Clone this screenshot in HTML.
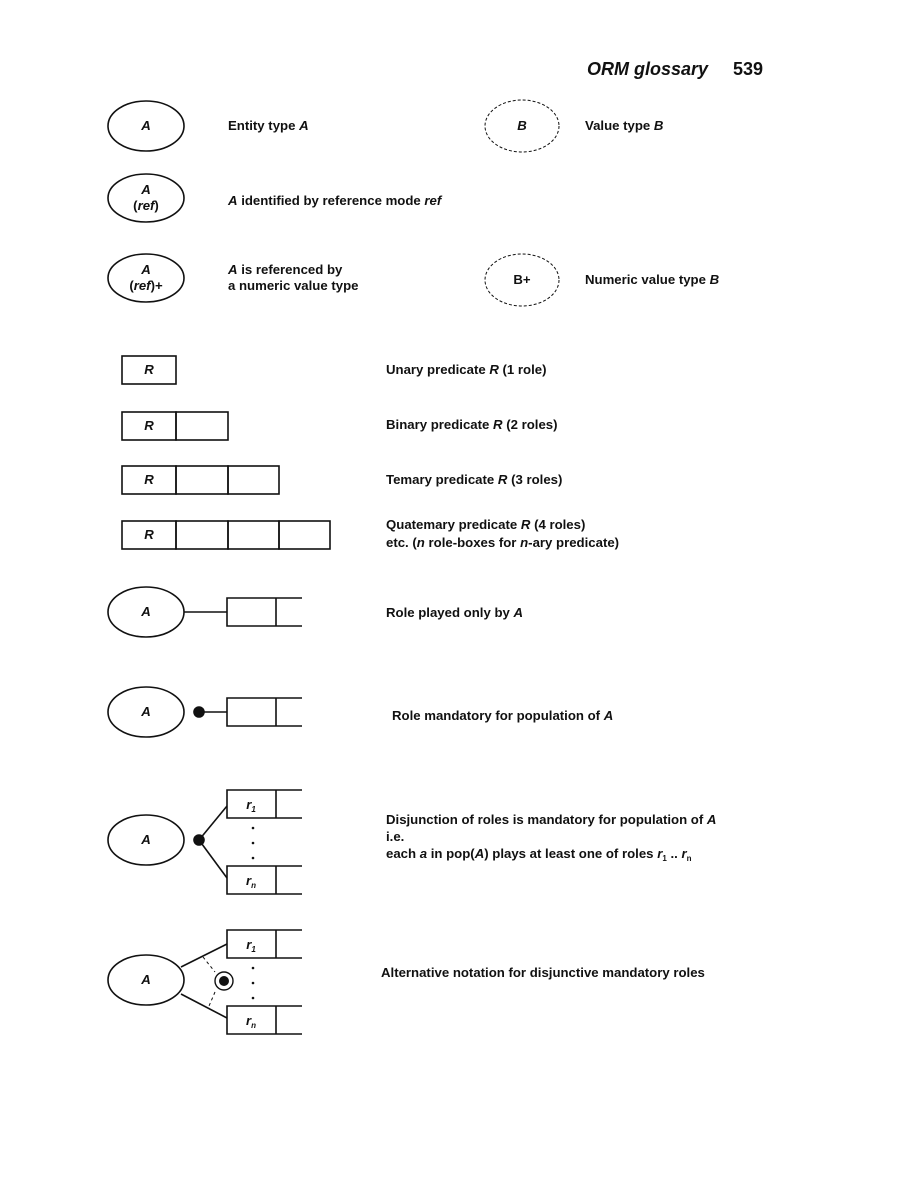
<!DOCTYPE html>
<html><head><meta charset="utf-8"><style>
html,body{margin:0;padding:0;background:#fff;}
svg{display:block;font-family:"Liberation Sans",Arial,sans-serif;}
text{fill:#111;font-size:13.2px;}
.b{font-weight:bold}
.i{font-style:italic}
</style></head><body>
<svg width="918" height="1188" viewBox="0 0 918 1188" stroke="#111" fill="none" stroke-width="1.6">
<g stroke="none">
<text x="587" y="75" style="font-size:18px" class="b i">ORM glossary</text>
<text x="733" y="75" style="font-size:18px" class="b">539</text>
</g>
<g>
<ellipse cx="146" cy="126" rx="38" ry="25"/>
<text x="146" y="130" text-anchor="middle" class="b i" stroke="none">A</text>
<text x="228" y="130" class="b" stroke="none">Entity type <tspan class="i">A</tspan></text>
</g>
<g>
<ellipse cx="522" cy="126" rx="37" ry="26" stroke-dasharray="3,2" stroke-width="1"/>
<text x="522" y="130" text-anchor="middle" class="b i" stroke="none">B</text>
<text x="585" y="130" class="b" stroke="none">Value type <tspan class="i">B</tspan></text>
</g>
<g>
<ellipse cx="146" cy="198" rx="38" ry="24"/>
<text x="146" y="194" text-anchor="middle" class="b i" stroke="none">A</text>
<text x="146" y="210" text-anchor="middle" class="b" stroke="none">(<tspan class="i">ref</tspan>)</text>
<text x="228" y="205" class="b" stroke="none"><tspan class="i">A</tspan> identified by reference mode <tspan class="i">ref</tspan></text>
</g>
<g>
<ellipse cx="146" cy="278" rx="38" ry="24"/>
<text x="146" y="274" text-anchor="middle" class="b i" stroke="none">A</text>
<text x="146" y="290" text-anchor="middle" class="b" stroke="none">(<tspan class="i">ref</tspan>)+</text>
<text x="228" y="274" class="b" stroke="none"><tspan class="i">A</tspan> is referenced by</text>
<text x="228" y="290" class="b" stroke="none">a numeric value type</text>
</g>
<g>
<ellipse cx="522" cy="280" rx="37" ry="26" stroke-dasharray="3,2" stroke-width="1"/>
<text x="522" y="284" text-anchor="middle" class="b" stroke="none">B+</text>
<text x="585" y="284" class="b" stroke="none">Numeric value type <tspan class="i">B</tspan></text>
</g>
<g>
<rect x="122" y="356" width="54" height="28"/>
<text x="149" y="374" text-anchor="middle" class="b i" stroke="none">R</text>
<text x="386" y="374" class="b" stroke="none">Unary predicate <tspan class="i">R</tspan>  (1 role)</text>
</g>
<g>
<rect x="122" y="412" width="54" height="28"/><rect x="176" y="412" width="52" height="28"/>
<text x="149" y="430" text-anchor="middle" class="b i" stroke="none">R</text>
<text x="386" y="429" class="b" stroke="none">Binary predicate <tspan class="i">R</tspan>  (2 roles)</text>
</g>
<g>
<rect x="122" y="466" width="54" height="28"/><rect x="176" y="466" width="52" height="28"/><rect x="228" y="466" width="51" height="28"/>
<text x="149" y="484" text-anchor="middle" class="b i" stroke="none">R</text>
<text x="386" y="484" class="b" stroke="none">Temary predicate <tspan class="i">R</tspan>  (3 roles)</text>
</g>
<g>
<rect x="122" y="521" width="54" height="28"/><rect x="176" y="521" width="52" height="28"/><rect x="228" y="521" width="51" height="28"/><rect x="279" y="521" width="51" height="28"/>
<text x="149" y="539" text-anchor="middle" class="b i" stroke="none">R</text>
<text x="386" y="529" class="b" stroke="none">Quatemary predicate <tspan class="i">R</tspan>  (4 roles)</text>
<text x="386" y="547" class="b" stroke="none">etc. (<tspan class="i">n</tspan> role-boxes for <tspan class="i">n</tspan>-ary predicate)</text>
</g>
<g>
<ellipse cx="146" cy="612" rx="38" ry="25"/>
<text x="146" y="616" text-anchor="middle" class="b i" stroke="none">A</text>
<line x1="184" y1="612" x2="227" y2="612"/>
<path d="M302 598 H227 V626 H302 M276 598 V626"/>
<text x="386" y="617" class="b" stroke="none">Role played only by <tspan class="i">A</tspan></text>
</g>
<g>
<ellipse cx="146" cy="712" rx="38" ry="25"/>
<text x="146" y="716" text-anchor="middle" class="b i" stroke="none">A</text>
<circle cx="199" cy="712" r="5" fill="#111"/>
<line x1="199" y1="712" x2="227" y2="712"/>
<path d="M302 698 H227 V726 H302 M276 698 V726"/>
<text x="392" y="720" class="b" stroke="none">Role mandatory for population of <tspan class="i">A</tspan></text>
</g>
<g>
<ellipse cx="146" cy="840" rx="38" ry="25"/>
<text x="146" y="844" text-anchor="middle" class="b i" stroke="none">A</text>
<circle cx="199" cy="840" r="5" fill="#111"/>
<line x1="199" y1="840" x2="227" y2="806"/><line x1="199" y1="840" x2="227" y2="878"/>
<path d="M302 790 H227 V818 H302 M276 790 V818"/>
<path d="M302 866 H227 V894 H302 M276 866 V894"/>
<text x="251" y="809" text-anchor="middle" class="b i" stroke="none">r<tspan font-size="8" dy="3">1</tspan></text>
<text x="251" y="885" text-anchor="middle" class="b i" stroke="none">r<tspan font-size="8" dy="3">n</tspan></text>
<g fill="#111" stroke="none"><circle cx="253" cy="828" r="1.3"/><circle cx="253" cy="843" r="1.3"/><circle cx="253" cy="858" r="1.3"/></g>
<text x="386" y="824" class="b" stroke="none">Disjunction of roles is mandatory for population of <tspan class="i">A</tspan></text>
<text x="386" y="841" class="b" stroke="none">i.e.</text>
<text x="386" y="858" class="b" stroke="none">each <tspan class="i">a</tspan> in pop(<tspan class="i">A</tspan>) plays at least one of roles <tspan class="i">r</tspan><tspan font-size="8" dy="3">1</tspan><tspan dy="-3"> .. </tspan><tspan class="i">r</tspan><tspan font-size="8" dy="3">n</tspan></text>
</g>
<g>
<ellipse cx="146" cy="980" rx="38" ry="25"/>
<text x="146" y="984" text-anchor="middle" class="b i" stroke="none">A</text>
<line x1="181" y1="967" x2="227" y2="944"/><line x1="181" y1="994" x2="227" y2="1018"/>
<path d="M302 930 H227 V958 H302 M276 930 V958"/>
<path d="M302 1006 H227 V1034 H302 M276 1006 V1034"/>
<text x="251" y="949" text-anchor="middle" class="b i" stroke="none">r<tspan font-size="8" dy="3">1</tspan></text>
<text x="251" y="1025" text-anchor="middle" class="b i" stroke="none">r<tspan font-size="8" dy="3">n</tspan></text>
<circle cx="224" cy="981" r="9" stroke-width="1.4"/>
<circle cx="224" cy="981" r="5" fill="#111" stroke="none"/>
<line x1="203" y1="957" x2="215" y2="972" stroke-dasharray="3,3" stroke-width="1"/>
<line x1="215" y1="992" x2="209" y2="1006" stroke-dasharray="3,3" stroke-width="1"/>
<g fill="#111" stroke="none"><circle cx="253" cy="968" r="1.3"/><circle cx="253" cy="983" r="1.3"/><circle cx="253" cy="998" r="1.3"/></g>
<text x="381" y="977" class="b" stroke="none">Alternative notation for disjunctive mandatory roles</text>
</g>
</svg>
</body></html>
